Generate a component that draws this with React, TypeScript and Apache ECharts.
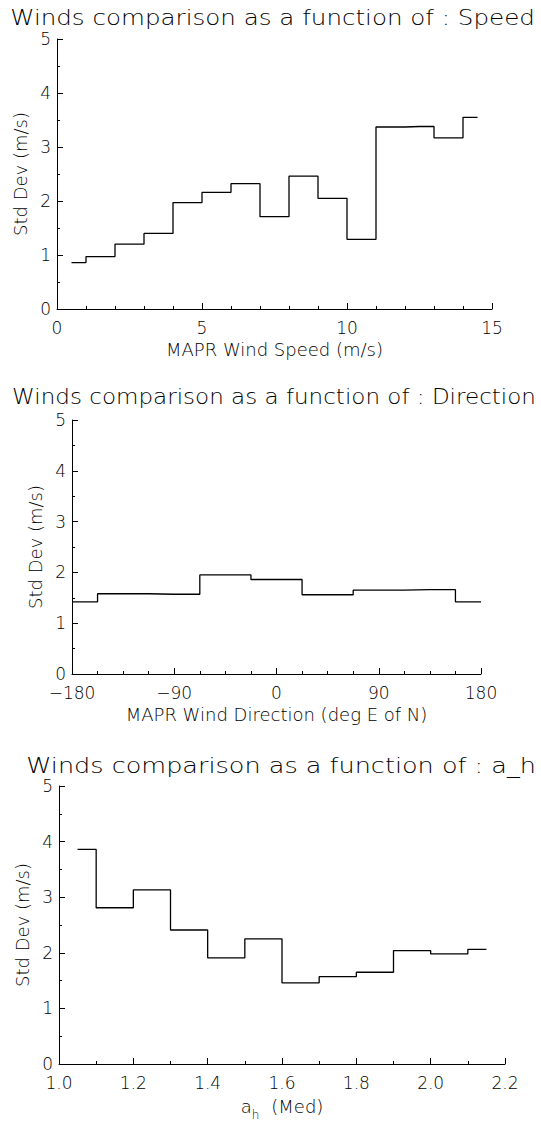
import React, { useEffect, useRef } from "react";
import * as echarts from "echarts";

// ---- data ----
const speedBins = [0.5, 1.5, 2.5, 3.5, 4.5, 5.5, 6.5, 7.5, 8.5, 9.5, 10.5, 11.5, 12.5, 13.5, 14.5];
const speedStd = [0.86, 0.97, 1.2, 1.4, 1.97, 2.16, 2.32, 1.71, 2.46, 2.05, 1.29, 3.37, 3.38, 3.17, 3.55];

const dirBins = [-180, -135, -90, -45, 0, 45, 90, 135, 180];
const dirStd = [1.42, 1.58, 1.57, 1.95, 1.86, 1.56, 1.65, 1.66, 1.42];

const ahBins = [1.05, 1.15, 1.25, 1.35, 1.45, 1.55, 1.65, 1.75, 1.85, 1.95, 2.05, 2.15];
const ahStd = [3.86, 2.81, 3.13, 2.41, 1.91, 2.25, 1.46, 1.57, 1.65, 2.04, 1.98, 2.06];

const titles = [
  "Winds comparison as a function of : Speed",
  "Winds comparison as a function of : Direction",
  "Winds comparison as a function of : a_h",
];
const xNames = ["MAPR Wind Speed (m/s)", "MAPR Wind Direction (deg E of N)", "{a|a}{h|h}{m|(Med)}"];
const yName = "Std Dev (m/s)";

const FONT = '"DejaVu Sans", "Noto Sans", sans-serif';
const WEIGHT = 300;

export default function App() {
  const ref = useRef<HTMLDivElement>(null);
  useEffect(() => {
    const el = ref.current;
    if (!el) return;
    const chart = echarts.init(el, null, { renderer: "svg" });

    const grids = [
      { left: 57, top: 39, width: 435, height: 270 },
      { left: 72, top: 420, width: 409, height: 254 },
      { left: 59, top: 786, width: 446, height: 278 },
    ];
    const xSpecs = [
      { min: 0, max: 15, interval: 5, minorSplit: 5, fmt: (v: number) => String(v) },
      { min: -180, max: 180, interval: 90, minorSplit: 4, fmt: (v: number) => (v < 0 ? "\u2212" + Math.abs(v) : String(v)) },
      { min: 1.0, max: 2.2, interval: 0.2, minorSplit: 2, fmt: (v: number) => v.toFixed(1) },
    ];
    const nameGaps = [31, 31, 33];
    const series = [
      speedBins.map((x, i) => [x, speedStd[i]]),
      dirBins.map((x, i) => [x, dirStd[i]]),
      ahBins.map((x, i) => [x, ahStd[i]]),
    ];

    // titles: stretched horizontally like the original vector font
    const titleCenters = [272.5, 274, 281];
    const titleWidths = [525, 524, 510];
    const titleY = [18, 397, 765.5];
    const TITLE_SIZE = 21;
    const ctx = document.createElement("canvas").getContext("2d");
    const measure = (t: string) => {
      if (!ctx) return t.length * TITLE_SIZE * 0.55;
      ctx.font = `${WEIGHT} ${TITLE_SIZE}px ${FONT}`;
      return ctx.measureText(t).width;
    };

    const black = "#000";
    const axisLine = { show: true, onZero: false, lineStyle: { color: black, width: 1 } };

    const option: any = {
      animation: false,
      backgroundColor: "#fff",
      textStyle: { fontFamily: FONT },
      grid: grids.map((g) => ({ ...g, containLabel: false })),
      xAxis: xSpecs.map((s, i) => ({
        type: "value",
        gridIndex: i,
        min: s.min,
        max: s.max,
        interval: s.interval,
        axisLine,
        axisTick: { show: true, inside: true, length: 6, lineStyle: { color: black, width: 1 } },
        minorTick: { show: true, splitNumber: s.minorSplit, length: 3, lineStyle: { color: black, width: 1 } },
        splitLine: { show: false },
        axisLabel: {
          color: black,
          fontSize: 17,
          fontFamily: FONT,
          fontWeight: WEIGHT,
          margin: 10,
          formatter: s.fmt,
        },
        name: xNames[i],
        nameLocation: "middle",
        nameGap: nameGaps[i],
        nameTextStyle: {
          color: black,
          fontSize: 18,
          fontFamily: FONT,
          fontWeight: WEIGHT,
          rich: {
            a: { fontSize: 18, fontFamily: FONT, fontWeight: WEIGHT, color: black, verticalAlign: "top" },
            h: { fontSize: 12, fontFamily: FONT, fontWeight: WEIGHT, color: black, verticalAlign: "top", padding: [12, 0, 0, 0] },
            m: { fontSize: 18, fontFamily: FONT, fontWeight: WEIGHT, color: black, verticalAlign: "top", padding: [0, 0, 0, 12] },
          },
        },
      })),
      yAxis: grids.map((_, i) => ({
        type: "value",
        gridIndex: i,
        min: 0,
        max: 5,
        interval: 1,
        axisLine,
        axisTick: { show: true, inside: true, length: 6, lineStyle: { color: black, width: 1 } },
        minorTick: { show: true, splitNumber: 2, length: 3, lineStyle: { color: black, width: 1 } },
        splitLine: { show: false },
        axisLabel: { color: black, fontSize: 17, fontFamily: FONT, fontWeight: WEIGHT, margin: 6 },
        name: yName,
        nameLocation: "middle",
        nameGap: 27,
        nameTextStyle: { color: black, fontSize: 18, fontFamily: FONT, fontWeight: WEIGHT },
      })),
      series: series.map((d, i) => ({
        type: "line",
        xAxisIndex: i,
        yAxisIndex: i,
        data: d,
        step: "middle",
        symbol: "none",
        lineStyle: { color: black, width: 1.3 },
      })),
      graphic: titles.map((t, i) => ({
        type: "text",
        x: titleCenters[i],
        y: titleY[i],
        scaleX: titleWidths[i] / measure(t),
        style: {
          text: t,
          fill: black,
          fontSize: TITLE_SIZE,
          fontFamily: FONT,
          fontWeight: WEIGHT,
          align: "center",
          verticalAlign: "middle",
        },
      })),
    };
    chart.setOption(option);
    return () => chart.dispose();
  }, []);
  return (
    <div
      ref={ref}
      style={{ position: "fixed", left: 0, top: 0, width: 541, height: 1122, background: "#fff" }}
    />
  );
}
